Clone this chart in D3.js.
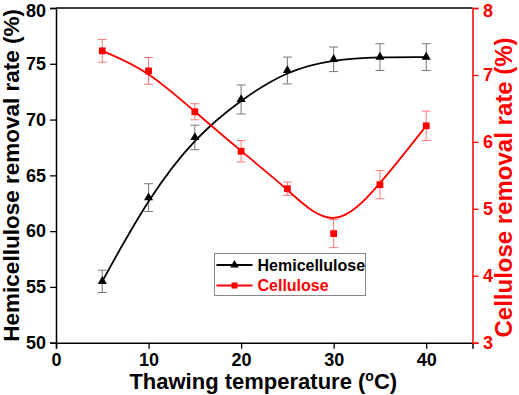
<!DOCTYPE html>
<html>
<head>
<meta charset="utf-8">
<script src="https://cdn.jsdelivr.net/npm/d3@7"></script>
<style>
  body { margin: 0; background: #fff; }
  text { font-family: "Liberation Sans", Arial, sans-serif; font-weight: bold; }
</style>
</head>
<body>
<div id="chart"></div>
<script>
// temperatures (°C)
const temps = [5, 10, 15, 20, 25, 30, 35, 40];
// hemicellulose removal rate (%) and error
const hemi = [55.5, 63.0, 68.4, 71.8, 74.4, 75.4, 75.6, 75.6];
const hemiErr = [1.0, 1.25, 1.1, 1.3, 1.2, 1.1, 1.2, 1.2];
// cellulose removal rate (%) and error
const cell = [7.36, 7.06, 6.45, 5.86, 5.30, 4.63, 5.36, 6.24];
const cellErr = [0.17, 0.2, 0.12, 0.16, 0.1, 0.21, 0.21, 0.22];

const xTicks = [0, 10, 20, 30, 40];
const yLeftTicks = [50, 55, 60, 65, 70, 75, 80];
const yRightTicks = [3, 4, 5, 6, 7, 8];

const W = 519, H = 395;
const margin = {top: 8, right: 46.5, bottom: 52.3, left: 56};
const width = W - margin.left - margin.right;
const height = H - margin.top - margin.bottom;

const svg = d3.select("#chart").append("svg")
    .attr("width", W)
    .attr("height", H);

const g = svg.append("g")
    .attr("transform", "translate(" + margin.left + "," + margin.top + ")");

let x = d3.scaleLinear().domain([0, 45]).range([0, width]);
let yL = d3.scaleLinear().domain([50, 80]).range([height, 0]);
let yR = d3.scaleLinear().domain([3, 8]).range([height, 0]);

// top border
g.append("line")
    .attr("x1", 0).attr("x2", width)
    .attr("y1", 0).attr("y2", 0)
    .attr("stroke", "#000").attr("stroke-width", 1.5);

// bottom axis: major + minor ticks
const xAxis = g.append("g").attr("transform", "translate(0," + height + ")");
xAxis.call(d3.axisBottom(x).tickValues(d3.range(0, 46, 5)).tickSize(4).tickFormat(""));
xAxis.call(d3.axisBottom(x).tickValues(xTicks).tickSize(6).tickFormat(d3.format("d")))
xAxis.selectAll("path").attr("stroke-width", 1.5);
xAxis.selectAll("line").attr("stroke-width", 1.3);
xAxis.selectAll("text").attr("font-size", 18).attr("y", 6).attr("dy", "0.96em").attr("fill", "#000");

// left axis
const lAxis = g.append("g");
lAxis.call(d3.axisLeft(yL).tickValues(d3.range(50, 80.1, 2.5)).tickSize(4).tickFormat(""));
lAxis.call(d3.axisLeft(yL).tickValues(yLeftTicks).tickSize(6).tickFormat(d3.format("d")));
lAxis.selectAll("path").attr("stroke-width", 1.5);
lAxis.selectAll("line").attr("stroke-width", 1.3);
lAxis.selectAll("text").attr("font-size", 18).attr("fill", "#000").attr("x", -10)
    .attr("y", function(d) { return d === 80 ? 2.5 : 0; });

// right axis, red
const rAxis = g.append("g").attr("transform", "translate(" + width + ",0)");
rAxis.call(d3.axisRight(yR).tickValues(d3.range(3, 8.01, 0.5)).tickSize(4).tickFormat(""));
rAxis.call(d3.axisRight(yR).tickValues(yRightTicks).tickSize(6).tickFormat(d3.format("d")));
rAxis.selectAll("path").attr("stroke", "#f00").attr("stroke-width", 1.5);
rAxis.selectAll("line").attr("stroke", "#f00").attr("stroke-width", 1.3);
rAxis.selectAll("text").attr("font-size", 18).attr("fill", "#f00").attr("x", 10.5)
    .attr("y", function(d) { return d === 8 ? 2.5 : 0; });

// axis titles
const xTitle = svg.append("text")
    .attr("x", margin.left + width / 2 - 1)
    .attr("y", 389)
    .attr("text-anchor", "middle")
    .attr("font-size", 22)
    .attr("fill", "#000");
xTitle.append("tspan").text("Thawing temperature (");
xTitle.append("tspan").attr("font-size", 14).attr("dy", -8).text("o");
xTitle.append("tspan").attr("dy", 8).text("C)");

svg.append("text")
    .attr("transform", "translate(18.5," + (margin.top + height / 2) + ")rotate(-90)")
    .attr("text-anchor", "middle")
    .attr("font-size", 22.5)
    .attr("fill", "#000")
    .text("Hemicellulose removal rate (%)");

svg.append("text")
    .attr("transform", "translate(512," + 187.5 + ")rotate(-90)")
    .attr("text-anchor", "middle")
    .attr("font-size", 24)
    .attr("fill", "#f00")
    .text("Cellulose removal rate (%)");

function drawSeries(vals, errs, y, lineColor, errColor, shape, size) {
    const s = g.append("g");
    const capW = 4.5;
    vals.forEach(function(v, i) {
        let cx = x(temps[i]);
        s.append("line").attr("x1", cx).attr("x2", cx)
            .attr("y1", y(v - errs[i])).attr("y2", y(v + errs[i]))
            .attr("stroke", errColor).attr("stroke-width", 1);
        [v - errs[i], v + errs[i]].forEach(function(e) {
            s.append("line").attr("x1", cx - capW).attr("x2", cx + capW)
                .attr("y1", y(e)).attr("y2", y(e))
                .attr("stroke", errColor).attr("stroke-width", 1);
        });
    });
    s.append("path")
        .datum(vals)
        .attr("fill", "none")
        .attr("stroke", lineColor)
        .attr("stroke-width", 1.8)
        .attr("d", d3.line()
            .x(function(d, i) { return x(temps[i]); })
            .y(function(d) { return y(d); })
            .curve(d3.curveBasis));
    s.selectAll("path.mk")
        .data(vals)
        .enter().append("path")
        .attr("class", "mk")
        .attr("transform", function(d, i) { return "translate(" + x(temps[i]) + "," + y(d) + ")"; })
        .attr("d", d3.symbol().type(shape).size(size))
        .attr("fill", lineColor);
}

drawSeries(hemi, hemiErr, yL, "#000", "#777", d3.symbolTriangle, 36);
drawSeries(cell, cellErr, yR, "#f00", "#f77", d3.symbolSquare, 46);

// legend
const legend = svg.append("g").attr("transform", "translate(214.5,253.5)");
legend.append("rect")
    .attr("width", 151).attr("height", 42)
    .attr("fill", "#fff").attr("stroke", "#888").attr("stroke-width", 1);
const legendItems = [
    {name: "Hemicellulose", color: "#000", shape: d3.symbolTriangle, size: 32},
    {name: "Cellulose", color: "#f00", shape: d3.symbolSquare, size: 36}
];
legendItems.forEach(function(d, i) {
    let ly = 11.5 + i * 20.5;
    legend.append("line")
        .attr("x1", 2).attr("x2", 38).attr("y1", ly).attr("y2", ly)
        .attr("stroke", d.color).attr("stroke-width", 1.8);
    legend.append("path")
        .attr("transform", "translate(20," + ly + ")")
        .attr("d", d3.symbol().type(d.shape).size(d.size))
        .attr("fill", d.color);
    legend.append("text")
        .attr("x", 43).attr("y", ly)
        .attr("dy", "0.36em")
        .attr("font-size", 16)
        .attr("fill", d.color)
        .text(d.name);
});
</script>
</body>
</html>
